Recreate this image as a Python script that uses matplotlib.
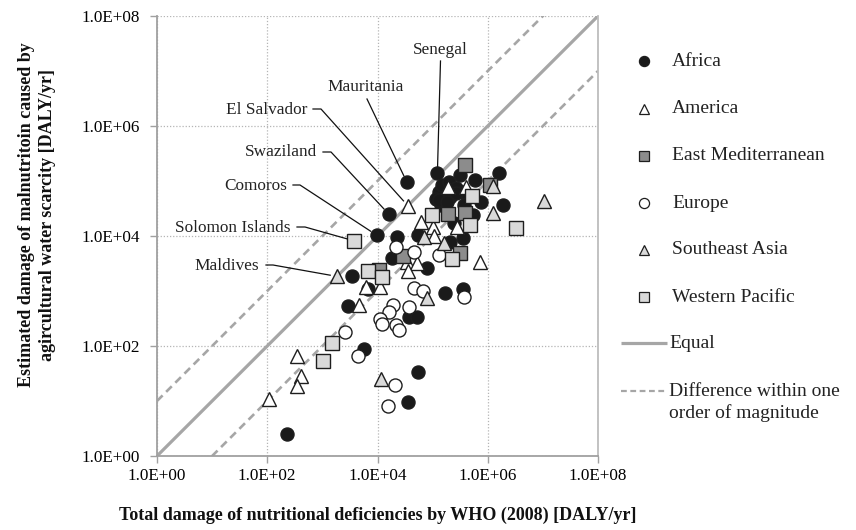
import matplotlib
matplotlib.use("Agg")
import matplotlib.pyplot as plt
import numpy as np
from matplotlib.ticker import FixedLocator, FuncFormatter, NullLocator

plt.rcParams['font.family'] = ['Liberation Serif', 'DejaVu Serif']

# ---------------- data (DALY/yr) ----------------
regions = ["Africa", "America", "East Mediterranean", "Europe", "Southeast Asia", "Western Pacific"]

africa_x = [3.4e4, 1.6e4, 9.6e3, 1.22e5, 1.63e6, 5.8e5, 3.2e5, 1.89e6, 7.5e5, 1.4e5, 1.3e5, 1.5e5,
            2.0e5, 2.6e5, 1.13e5, 2.1e5, 3.5e5, 1.3e5, 2.6e5, 3.7e5, 5.3e5, 2.4e5, 3.5e5, 2.1e5,
            8.0e4, 5.4e4, 2.3e4, 1.8e4, 3.5e3, 1.7e5, 3.6e5, 2.9e3, 3.7e4, 5.1e4, 5.7e3, 5.4e4,
            3.6e4, 228, 1.85e5, 6.6e3]
africa_y = [9.6e4, 2.5e4, 1.04e4, 1.38e5, 1.37e5, 1.04e5, 1.29e5, 3.7e4, 4.2e4, 3.7e4, 6.4e4, 8.5e4,
            9.7e4, 7.4e4, 4.8e4, 5.2e4, 6.4e4, 4.5e4, 6.0e4, 3.7e4, 2.4e4, 1.7e4, 9.1e3, 7.9e3,
            2.6e3, 1.04e4, 9.6e3, 3.9e3, 1.9e3, 9.1e2, 1.08e3, 5.3e2, 3.4e2, 3.3e2, 88, 33,
            9.7, 2.5, 4.2e4, 1.09e3]

america_x = [3.6e4, 1.9e5, 4.0e5, 6.2e4, 1.0e5, 1.08e5, 2.8e5, 3.5e4, 5.3e4, 3.6e4, 7.2e5,
             6.1e3, 1.13e4, 4.7e3, 347, 415, 347, 106]
america_y = [3.5e4, 7.7e4, 7.7e4, 1.8e4, 1.46e4, 1.02e4, 1.46e4, 3.4e3, 3.2e3, 2.3e3, 3.3e3,
             1.17e3, 1.18e3, 5.5e2, 66, 28, 19, 10.9]

emed_x = [3.9e5, 1.08e6, 1.9e5, 3.9e5, 2.9e4, 3.2e5, 1.08e4]
emed_y = [1.93e5, 8.5e4, 2.5e4, 2.6e4, 4.4e3, 5.0e3, 2.4e3]

europe_x = [2.2e4, 4.6e4, 1.3e5, 4.5e4, 6.6e4, 3.7e5, 1.9e4, 1.6e4, 3.8e4, 1.1e4, 1.23e4,
            2.15e4, 2.5e4, 2.6e3, 4.5e3, 2.07e4, 1.54e4]
europe_y = [6.2e3, 5.1e3, 4.5e3, 1.12e3, 1.01e3, 7.9e2, 5.6e2, 4.2e2, 5.2e2, 3.1e2, 2.5e2,
            2.4e2, 1.95e2, 1.8e2, 66, 19.5, 8.2]

seasia_x = [1.85e3, 1.03e7, 1.27e6, 1.23e6, 7.0e4, 1.6e5, 7.8e4, 1.18e4]
seasia_y = [1.84e3, 4.3e4, 8.1e4, 2.6e4, 9.6e3, 7.6e3, 7.5e2, 25]

wpac_x = [3.7e3, 5.2e5, 3.2e6, 9.7e4, 4.8e5, 2.2e5, 6.7e3, 1.23e4, 1.5e3, 1.03e3]
wpac_y = [8.2e3, 5.3e4, 1.38e4, 2.4e4, 1.57e4, 3.8e3, 2.3e3, 1.78e3, 112, 53]

# labelled countries and the data point each label refers to
label_names = ["Senegal", "Mauritania", "El Salvador", "Swaziland", "Comoros", "Solomon Islands", "Maldives"]
label_x = [1.22e5, 3.4e4, 3.6e4, 1.6e4, 9.6e3, 3.7e3, 1.85e3]
label_y = [1.38e5, 9.6e4, 3.5e4, 2.5e4, 1.04e4, 8.2e3, 1.84e3]

tick_vals = [1e0, 1e2, 1e4, 1e6, 1e8]
line_ends = np.array([1e0, 1e8])

# ---------------- layout ----------------
W, H = 856, 530
fig = plt.figure(figsize=(W / 100, H / 100), dpi=100)
ax = fig.add_axes([157 / W, (H - 456) / H, (598 - 157) / W, (456 - 16) / H])
ax.set_xscale('log')
ax.set_yscale('log')
ax.set_xlim(1, 1e8)
ax.set_ylim(1, 1e8)

grey = '#a6a6a6'
ax.plot(line_ends, line_ends, color=grey, lw=2.3, zorder=2, solid_capstyle='butt')
ax.plot(line_ends, line_ends * 10, color=grey, lw=1.9, dashes=(3.0, 1.9), zorder=2)
ax.plot(line_ends, line_ends / 10, color=grey, lw=1.9, dashes=(3.0, 1.9), zorder=2)

for axis in (ax.xaxis, ax.yaxis):
    axis.set_major_locator(FixedLocator(tick_vals))
    axis.set_minor_locator(NullLocator())
    axis.set_major_formatter(FuncFormatter(lambda v, p: f"{v:.1E}"))
ax.grid(True, which='major', linestyle=(0, (1, 1.5)), color='#b5b5b5', lw=0.9, zorder=0)
ax.tick_params(axis='both', direction='out', length=5, width=1, color='#a0a0a0', labelsize=12.3)
ax.tick_params(axis='y', pad=7)
ax.tick_params(axis='x', pad=4)
for s in ('left', 'bottom'):
    ax.spines[s].set_color('#a0a0a0')
    ax.spines[s].set_linewidth(1.3)
ax.spines['top'].set_visible(False)
ax.spines['right'].set_color('#bdbdbd')
ax.spines['right'].set_linewidth(1.3)

ms = 9.4
edge = '#1e1e1e'
styles = [
    (africa_x, africa_y, 'o', '#1a1a1a'),
    (america_x, america_y, '^', 'white'),
    (emed_x, emed_y, 's', '#8c8c8c'),
    (europe_x, europe_y, 'o', 'white'),
    (seasia_x, seasia_y, '^', '#d9d9d9'),
    (wpac_x, wpac_y, 's', '#d9d9d9'),
]
for i, (xs, ys, mk, fc) in enumerate(styles):
    ax.plot(xs, ys, linestyle='none', marker=mk, ms=ms, mfc=fc, mec=edge, mew=1.0,
            zorder=3 + i, clip_on=False)

# overlay in pixel coordinates (y downward) for legend, labels and leader lines
lax = fig.add_axes([0, 0, 1, 1])
lax.set_xlim(0, W)
lax.set_ylim(H, 0)
lax.axis('off')
lax.set_zorder(5)

def to_px(x, y):
    dx, dy = ax.transData.transform((x, y))
    return dx, H - dy

ann_layout = [
    (440, 50, 'center', [(440.5, 61)]),
    (366, 87, 'center', [(367, 99)]),
    (307, 110, 'right', [(313, 109), (321, 109)]),
    (317, 152, 'right', [(323, 152), (331, 152)]),
    (287, 186, 'right', [(293, 185), (300, 185)]),
    (291, 228, 'right', [(297, 227), (305, 227)]),
    (259, 266, 'right', [(266, 265), (273, 265)]),
]
for name, dx_, dy_, (tx, ty, ha, pts) in zip(label_names, label_x, label_y, ann_layout):
    lax.text(tx, ty, name, ha=ha, va='center', fontsize=12.4, color='#222222')
    px, py = to_px(dx_, dy_)
    sx, sy = pts[-1]
    d = np.hypot(px - sx, py - sy)
    ex, ey = px - (px - sx) / d * 7, py - (py - sy) / d * 7
    xs = [p[0] for p in pts] + [ex]
    ys = [p[1] for p in pts] + [ey]
    lax.plot(xs, ys, color='#111111', lw=0.9)

# legend
leg_y = [61, 108.5, 156, 203, 250, 297]
for (xs, ys, mk, fc), name, yy in zip(styles, regions, leg_y):
    lax.plot([644], [yy], linestyle='none', marker=mk, ms=7.3, mfc=fc, mec=edge, mew=0.9)
    lax.text(672, yy, name, ha='left', va='center', fontsize=14, color='#222222')
lax.plot([621, 667], [343, 343], color=grey, lw=2.3, solid_capstyle='butt')
lax.text(669, 343, "Equal", ha='left', va='center', fontsize=14, color='#222222')
lax.plot([621, 667], [391, 391], color=grey, lw=1.6, dashes=(2.6, 1.6))
lax.text(669, 391, "Difference within one", ha='left', va='center', fontsize=14, color='#222222')
lax.text(669, 413, "order of magnitude", ha='left', va='center', fontsize=14, color='#222222')

# axis titles
lax.text(378, 515, "Total damage of nutritional deficiencies by WHO (2008) [DALY/yr]",
         ha='center', va='center', fontsize=13, fontweight='bold', color='#111111')
lax.text(37, 215, "Estimated damage of malnutritoin caused by\nagircultural water scarcity [DALY/yr]",
         ha='center', va='center', rotation=90, fontsize=13, fontweight='bold',
         multialignment='center', color='#111111', linespacing=1.25)

fig.savefig("out.png", dpi=100)
